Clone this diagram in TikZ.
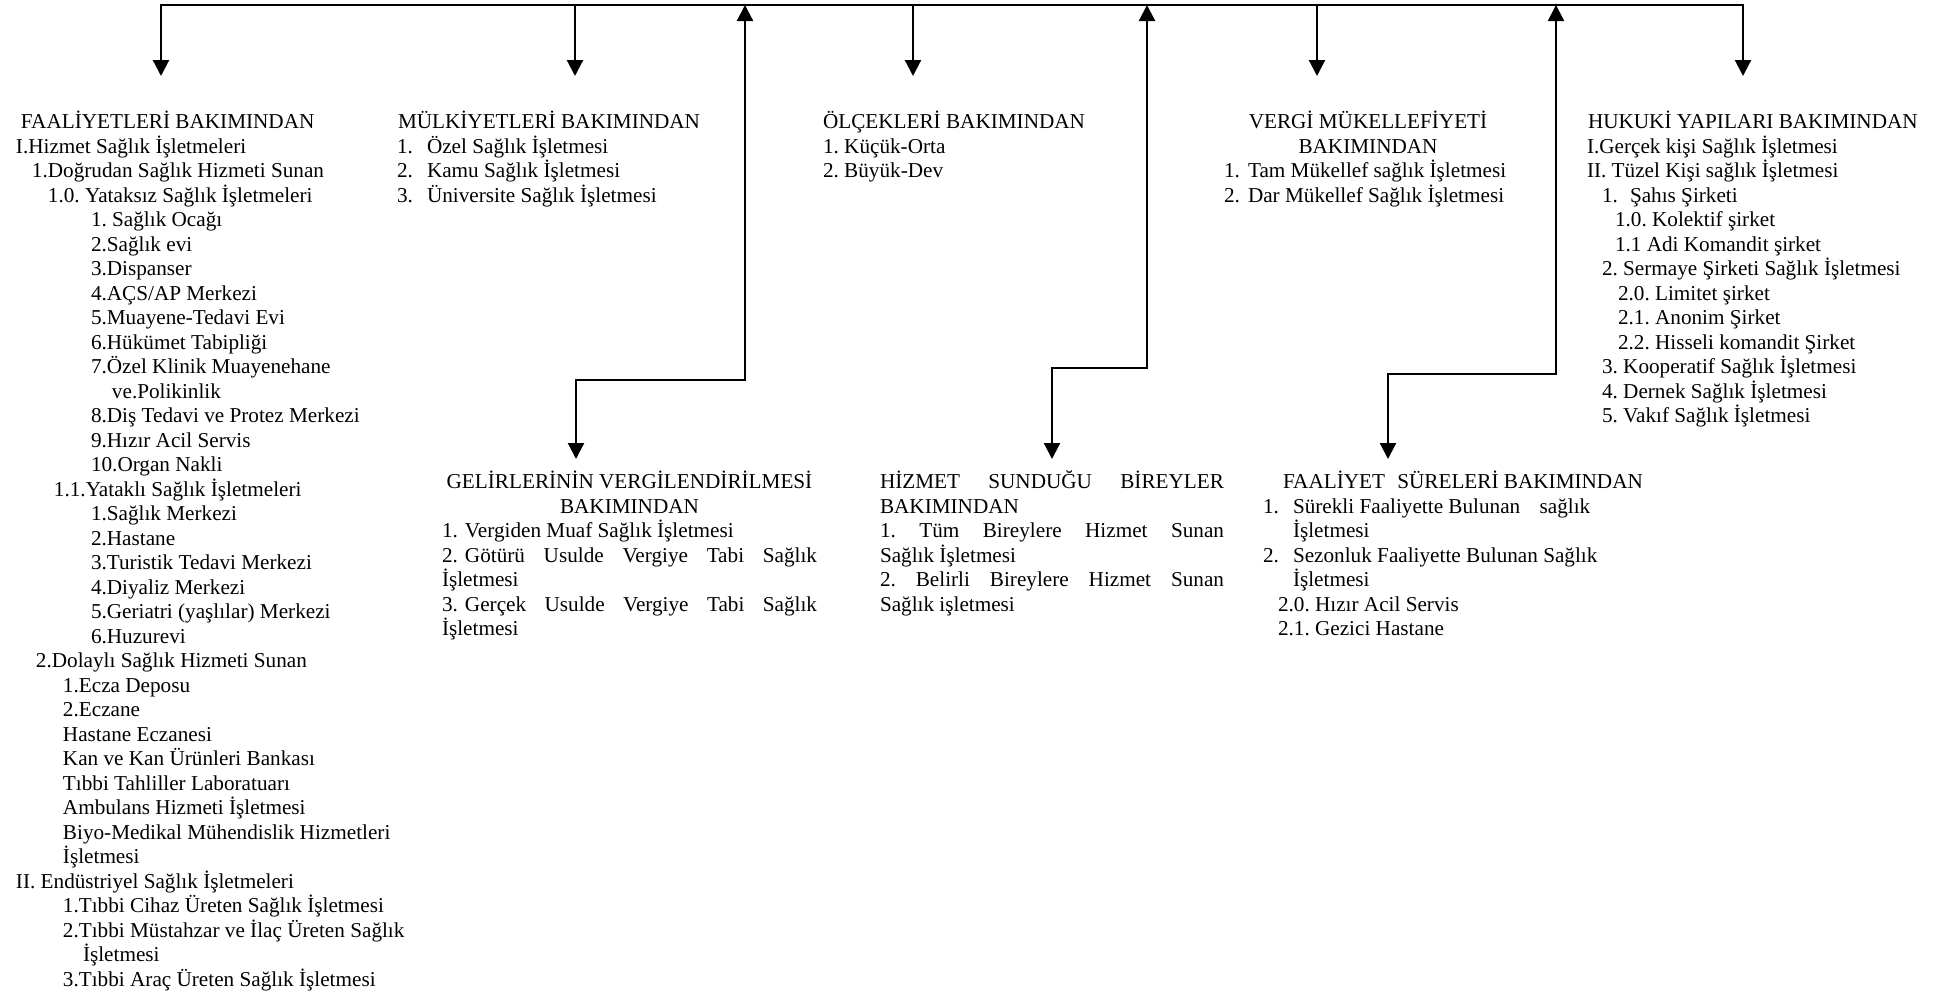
\documentclass[tikz,border=0pt]{standalone}
\usepackage{fontspec}
\setmainfont{Liberation Serif}
\usetikzlibrary{arrows.meta}
\frenchspacing

% one printed line, shifted right by #1
\newcommand\Ln[2]{\hbox{\kern#1\relax #2}}
% list number in a box of fixed width
\newcommand\Nm[2]{\makebox[#1][l]{#2}}
% a block of lines whose baseline is the first line
\newcommand\Blk[1]{\vtop{\frenchspacing\baselineskip=24.5pt\lineskiplimit=-50pt\lineskip=0pt #1}}

\tikzset{
  block/.style={anchor=base west, inner sep=0pt, outer sep=0pt,
                font=\fontsize{21.2pt}{24.5pt}\selectfont},
  tipshape/.tip={Triangle[width=16pt,length=16pt]},
  link/.style={line width=2.2pt, -tipshape},
  twoway/.style={line width=2.2pt, tipshape-tipshape},
}

\begin{document}
\begin{tikzpicture}[x=1pt,y=-1pt]
\useasboundingbox (0,0) rectangle (1943,993);

% ---------- text blocks, upper row ----------
\node[block] (b1) at (16,128.5) {\Blk{%
\Ln{5pt}{FAALİYETLERİ BAKIMINDAN}
\Ln{0pt}{I.Hizmet Sağlık İşletmeleri}
\Ln{16pt}{1.Doğrudan Sağlık Hizmeti Sunan}
\Ln{32pt}{1.0. Yataksız Sağlık İşletmeleri}
\Ln{75pt}{1. Sağlık Ocağı}
\Ln{75pt}{2.Sağlık evi}
\Ln{75pt}{3.Dispanser}
\Ln{75pt}{4.AÇS/AP Merkezi}
\Ln{75pt}{5.Muayene-Tedavi Evi}
\Ln{75pt}{6.Hükümet Tabipliği}
\Ln{75pt}{7.Özel Klinik Muayenehane}
\Ln{96pt}{ve.Polikinlik}
\Ln{75pt}{8.Diş Tedavi ve Protez Merkezi}
\Ln{75pt}{9.Hızır Acil Servis}
\Ln{75pt}{10.Organ Nakli}
\Ln{38pt}{1.1.Yataklı Sağlık İşletmeleri}
\Ln{75pt}{1.Sağlık Merkezi}
\Ln{75pt}{2.Hastane}
\Ln{75pt}{3.Turistik Tedavi Merkezi}
\Ln{75pt}{4.Diyaliz Merkezi}
\Ln{75pt}{5.Geriatri (yaşlılar) Merkezi}
\Ln{75pt}{6.Huzurevi}
\Ln{20pt}{2.Dolaylı Sağlık Hizmeti Sunan}
\Ln{47pt}{1.Ecza Deposu}
\Ln{47pt}{2.Eczane}
\Ln{47pt}{Hastane Eczanesi}
\Ln{47pt}{Kan ve Kan Ürünleri Bankası}
\Ln{47pt}{Tıbbi Tahliller Laboratuarı}
\Ln{47pt}{Ambulans Hizmeti İşletmesi}
\Ln{47pt}{Biyo-Medikal Mühendislik Hizmetleri}
\Ln{47pt}{İşletmesi}
\Ln{0pt}{II. Endüstriyel Sağlık İşletmeleri}
\Ln{47pt}{1.Tıbbi Cihaz Üreten Sağlık İşletmesi}
\Ln{47pt}{2.Tıbbi Müstahzar ve İlaç Üreten Sağlık}
\Ln{67pt}{İşletmesi}
\Ln{47pt}{3.Tıbbi Araç Üreten Sağlık İşletmesi}
}};

\node[block] (b2) at (397,128.5) {\Blk{%
\Ln{1pt}{MÜLKİYETLERİ BAKIMINDAN}
\Ln{0pt}{\Nm{30pt}{1.}Özel Sağlık İşletmesi}
\Ln{0pt}{\Nm{30pt}{2.}Kamu Sağlık İşletmesi}
\Ln{0pt}{\Nm{30pt}{3.}Üniversite Sağlık İşletmesi}
}};

\node[block] (b3) at (823,128.5) {\Blk{%
\Ln{0pt}{ÖLÇEKLERİ BAKIMINDAN}
\Ln{0pt}{1. Küçük-Orta}
\Ln{0pt}{2. Büyük-Dev}
}};

\node[block] (b4) at (1224,128.5) {\Blk{%
\Ln{0pt}{\makebox[288pt][c]{VERGİ MÜKELLEFİYETİ}}
\Ln{0pt}{\makebox[288pt][c]{BAKIMINDAN}}
\Ln{0pt}{\Nm{24pt}{1.}Tam Mükellef sağlık İşletmesi}
\Ln{0pt}{\Nm{24pt}{2.}Dar Mükellef Sağlık İşletmesi}
}};

\node[block] (b5) at (1587,128.5) {\Blk{%
\Ln{1pt}{HUKUKİ YAPILARI BAKIMINDAN}
\Ln{0pt}{I.Gerçek kişi Sağlık İşletmesi}
\Ln{0pt}{II. Tüzel Kişi sağlık İşletmesi}
\Ln{15pt}{\Nm{28pt}{1.}Şahıs Şirketi}
\Ln{28pt}{1.0. Kolektif şirket}
\Ln{28pt}{1.1 Adi Komandit şirket}
\Ln{15pt}{2. Sermaye Şirketi Sağlık İşletmesi}
\Ln{31pt}{2.0. Limitet şirket}
\Ln{31pt}{2.1. Anonim Şirket}
\Ln{31pt}{2.2. Hisseli komandit Şirket}
\Ln{15pt}{3. Kooperatif Sağlık İşletmesi}
\Ln{15pt}{4. Dernek Sağlık İşletmesi}
\Ln{15pt}{5. Vakıf Sağlık İşletmesi}
}};

% ---------- text blocks, lower row ----------
\node[block] (b6) at (442,488.5) {\Blk{%
\Ln{0pt}{\makebox[375pt][c]{GELİRLERİNİN VERGİLENDİRİLMESİ}}
\Ln{0pt}{\makebox[375pt][c]{BAKIMINDAN}}
\Ln{0pt}{\Nm{23pt}{1.}Vergiden Muaf Sağlık İşletmesi}
\Ln{0pt}{\Nm{23pt}{2.}\makebox[352pt][s]{Götürü Usulde Vergiye Tabi Sağlık}}
\Ln{0pt}{İşletmesi}
\Ln{0pt}{\Nm{23pt}{3.}\makebox[352pt][s]{Gerçek Usulde Vergiye Tabi Sağlık}}
\Ln{0pt}{İşletmesi}
}};

\node[block] (b7) at (880,488.5) {\Blk{%
\Ln{0pt}{\makebox[344pt][s]{HİZMET SUNDUĞU BİREYLER}}
\Ln{0pt}{BAKIMINDAN}
\Ln{0pt}{\makebox[344pt][s]{1. Tüm Bireylere Hizmet Sunan}}
\Ln{0pt}{Sağlık İşletmesi}
\Ln{0pt}{\makebox[344pt][s]{2. Belirli Bireylere Hizmet Sunan}}
\Ln{0pt}{Sağlık işletmesi}
}};

\node[block] (b8) at (1263,488.5) {\Blk{%
\Ln{20pt}{FAALİYET\hspace{7pt} SÜRELERİ BAKIMINDAN}
\Ln{0pt}{\Nm{30pt}{1.}Sürekli Faaliyette Bulunan\hspace{14pt} sağlık}
\Ln{30pt}{İşletmesi}
\Ln{0pt}{\Nm{30pt}{2.}Sezonluk Faaliyette Bulunan Sağlık}
\Ln{30pt}{İşletmesi}
\Ln{15pt}{2.0. Hızır Acil Servis}
\Ln{15pt}{2.1. Gezici Hastane}
}};

% ---------- connector points ----------
\coordinate (busL) at (161,5);
\coordinate (busR) at (1743,5);
\coordinate (t1) at (161,76);
\coordinate (t5) at (1743,76);
\coordinate (s2) at (575,5);   \coordinate (t2) at (575,76);
\coordinate (s3) at (913,5);   \coordinate (t3) at (913,76);
\coordinate (s4) at (1317,5);  \coordinate (t4) at (1317,76);

\coordinate (u1) at (745,5);   \coordinate (k1) at (576,380);  \coordinate (t6) at (576,459);
\coordinate (u2) at (1147,5);  \coordinate (k2) at (1052,368); \coordinate (t7) at (1052,459);
\coordinate (u3) at (1556,5);  \coordinate (k3) at (1388,374); \coordinate (t8) at (1388,459);

% ---------- connectors ----------
\draw[twoway] (t1) -- (busL) -- (busR) -- (t5);
\draw[link] (s2) -- (t2);
\draw[link] (s3) -- (t3);
\draw[link] (s4) -- (t4);

\draw[twoway] (u1) |- (k1) -- (t6);
\draw[twoway] (u2) |- (k2) -- (t7);
\draw[twoway] (u3) |- (k3) -- (t8);
\end{tikzpicture}
\end{document}
